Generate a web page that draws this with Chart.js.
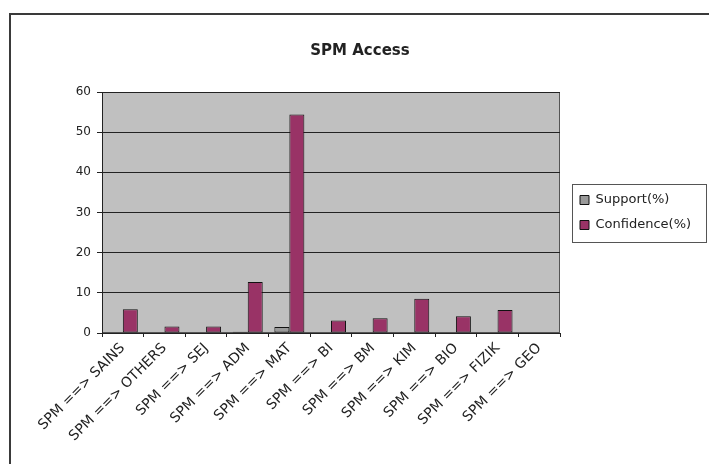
<!DOCTYPE html>
<html>
<head>
<meta charset="utf-8">
<title>SPM Access</title>
<script src="https://cdn.jsdelivr.net/npm/chart.js@4/dist/chart.umd.min.js"></script>
<style>
  html, body { margin: 0; padding: 0; background: #ffffff; }
  #wrap { width: 709px; height: 464px; position: relative; }
  canvas { display: block; }
</style>
</head>
<body>
<div id="wrap"><canvas id="chart" width="709" height="464"></canvas></div>
<script>
// Association rules from SPM to each subject
const categories = [
  'SPM ==> SAINS', 'SPM ==> OTHERS', 'SPM ==> SEJ', 'SPM ==> ADM', 'SPM ==> MAT',
  'SPM ==> BI', 'SPM ==> BM', 'SPM ==> KIM', 'SPM ==> BIO', 'SPM ==> FIZIK', 'SPM ==> GEO'
];
const supportPct    = [0, 0, 0, 0.3, 1.5, 0, 0, 0, 0, 0, 0];
const confidencePct = [5.9, 1.6, 1.6, 12.7, 54.4, 3.1, 3.7, 8.5, 4.2, 5.7, 0];
const yTicks = [0, 10, 20, 30, 40, 50, 60];

const FONT = '"DejaVu Sans", Verdana, sans-serif';

// Grey plot area, outer frame and framed legend
const decorations = {
  id: 'decorations',
  beforeLayout(chart) {
    const lg = chart.legend;
    if (lg && !lg._fixedWidth) {
      const fit = lg.fit;
      lg.fit = function () { fit.call(this); this.width = 140; };
      lg._fixedWidth = true;
    }
  },
  beforeDraw(chart) {
    const { ctx, chartArea: a } = chart;
    ctx.save();
    ctx.fillStyle = '#ffffff';
    ctx.fillRect(0, 0, chart.width, chart.height);
    // outer frame
    ctx.strokeStyle = '#3a3a3a';
    ctx.lineWidth = 2;
    ctx.beginPath();
    ctx.moveTo(10, chart.height + 2);
    ctx.lineTo(10, 14);
    ctx.lineTo(chart.width + 2, 14);
    ctx.stroke();
    // plot area
    ctx.fillStyle = '#c0c0c0';
    ctx.fillRect(a.left, a.top, a.right - a.left, a.bottom - a.top);
    ctx.strokeStyle = '#555555';
    ctx.lineWidth = 1;
    ctx.strokeRect(a.left + 0.5, a.top + 0.5, a.right - a.left - 1, a.bottom - a.top - 1);
    ctx.restore();
  },
  afterDraw(chart) {
    const lg = chart.legend;
    if (!lg || !lg.legendHitBoxes || !lg.legendHitBoxes.length) return;
    const hb = lg.legendHitBoxes;
    const first = hb[0], last = hb[hb.length - 1];
    const { ctx } = chart;
    ctx.save();
    ctx.strokeStyle = '#555555';
    ctx.lineWidth = 1;
    const x0 = Math.round(lg.left + 4) + 0.5;
    const x1 = Math.round(lg.right - 2) + 0.5;
    const y0 = Math.round(first.top - 10) + 0.5;
    const y1 = Math.round(last.top + last.height + 10) + 0.5;
    ctx.strokeRect(x0, y0, x1 - x0, y1 - y0);
    ctx.restore();
  }
};

new Chart(document.getElementById('chart'), {
  type: 'bar',
  data: {
    labels: categories,
    datasets: [
      {
        label: 'Support(%)',
        data: supportPct,
        backgroundColor: '#9a9a9a',
        borderColor: '#111111',
        borderWidth: 1,
        borderSkipped: false,
        categoryPercentage: 0.72,
        barPercentage: 1.0
      },
      {
        label: 'Confidence(%)',
        data: confidencePct,
        backgroundColor: '#993366',
        borderColor: '#111111',
        borderWidth: 1,
        borderSkipped: false,
        categoryPercentage: 0.72,
        barPercentage: 1.0
      }
    ]
  },
  options: {
    responsive: false,
    animation: false,
    devicePixelRatio: 1,
    layout: { padding: { left: 12, right: 1, top: 0, bottom: 0 } },
    plugins: {
      title: {
        display: true,
        text: 'SPM Access',
        color: '#222222',
        font: { family: FONT, size: 15, weight: 'bold' },
        padding: { top: 42, bottom: 32 }
      },
      legend: {
        display: true,
        position: 'right',
        align: 'center',
        fullSize: false,
        labels: {
          color: '#222222',
          font: { family: FONT, size: 13 },
          boxWidth: 9,
          boxHeight: 9,
          padding: 12
        }
      },
      tooltip: { enabled: false }
    },
    scales: {
      x: {
        offset: true,
        grid: {
          display: true,
          drawOnChartArea: false,
          drawTicks: true,
          tickLength: 4,
          color: '#222222',
          offset: true
        },
        border: { display: true, color: '#222222', width: 1 },
        ticks: {
          color: '#222222',
          font: { family: FONT, size: 14 },
          minRotation: 45,
          maxRotation: 45,
          autoSkip: false,
          padding: 3
        },
        afterFit(scale) { scale.height = 131; }
      },
      y: {
        min: 0,
        max: 60,
        afterBuildTicks(scale) { scale.ticks = yTicks.map(v => ({ value: v })); },
        grid: {
          color: '#222222',
          lineWidth: 1,
          drawTicks: true,
          tickLength: 5
        },
        border: { display: true, color: '#222222', width: 1 },
        ticks: {
          color: '#222222',
          font: { family: FONT, size: 12 },
          padding: 6
        },
        afterFit(scale) { scale.width = 90; }
      },
      gap: {
        type: 'linear',
        position: 'right',
        display: true,
        grid: { display: false, drawTicks: false },
        border: { display: false },
        ticks: { display: false },
        afterFit(scale) { scale.width = 8; }
      }
    }
  },
  plugins: [decorations]
});
</script>
</body>
</html>
